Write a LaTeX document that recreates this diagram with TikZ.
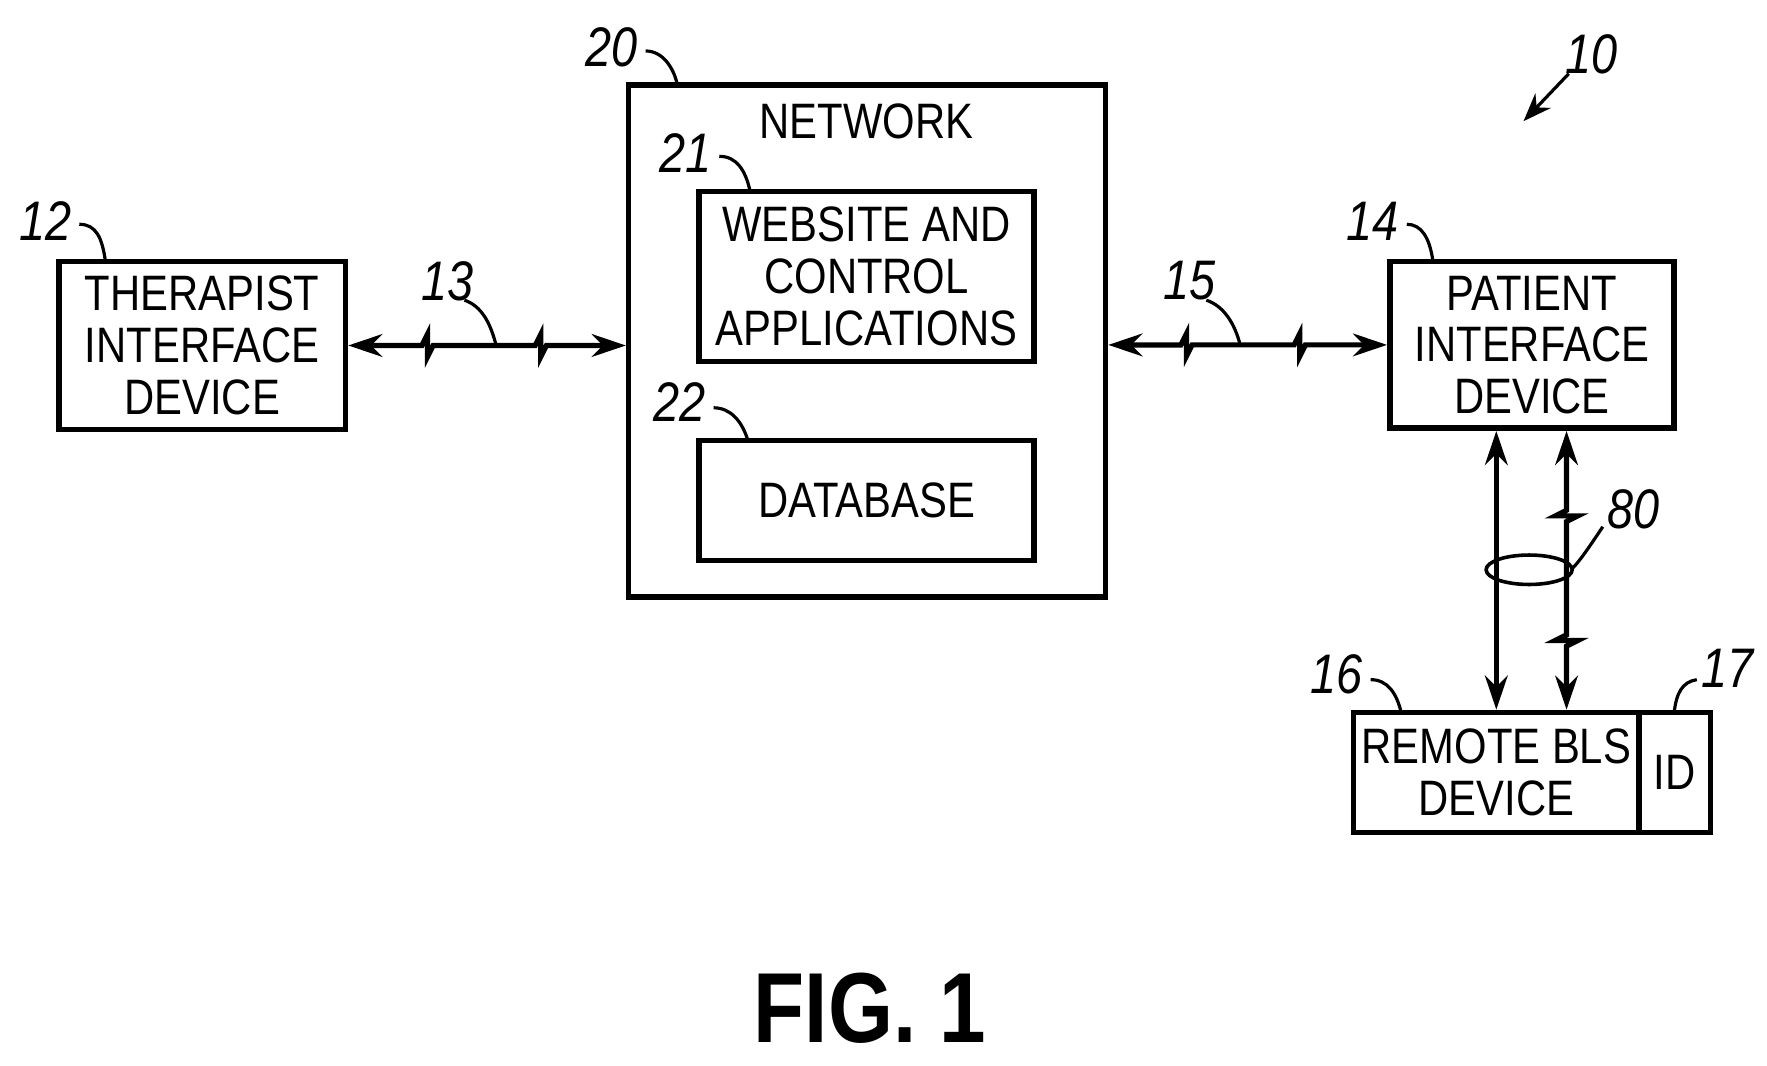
\documentclass[tikz,border=0pt]{standalone}
\usepackage{fontspec}
\setmainfont[FakeStretch=0.84]{Liberation Sans}
\usetikzlibrary{positioning,arrows.meta}
\tikzset{
  blk/.style={draw,line width=1.4pt,inner sep=0pt,align=center,
    font=\fontsize{12.5}{13}\selectfont},
  refno/.style={font=\itshape\fontsize{14}{15}\selectfont},
  lead/.style={line width=0.8pt},
  link/.style={line width=1.3pt,{Stealth[length=3mm,width=2mm]}-{Stealth[length=3mm,width=2mm]}}
}
\begin{document}
\begin{tikzpicture}
\useasboundingbox (0,0) rectangle (15.6,-9.41);
% boxes
\node[blk,minimum width=2.53cm,minimum height=1.48cm] (ther) at (1.785,-3.05) {THERAPIST\\INTERFACE\\DEVICE};
\node[blk,minimum width=4.21cm,minimum height=4.52cm] (net) at (7.655,-3.01) {};
\node[font=\fontsize{12.5}{13}\selectfont] (nettext) at (7.65,-1.07) {NETWORK};
\node[blk,minimum width=2.96cm,minimum height=1.50cm] (web) at (7.65,-2.44) {WEBSITE AND\\CONTROL\\APPLICATIONS};
\node[blk,minimum width=2.96cm,minimum height=1.06cm] (db) at (7.65,-4.42) {DATABASE};
\node[blk,minimum width=2.51cm,minimum height=1.47cm] (pat) at (13.525,-3.045) {PATIENT\\INTERFACE\\DEVICE};
\node[blk,minimum width=2.52cm,minimum height=1.06cm] (bls) at (13.21,-6.82) {REMOTE BLS\\DEVICE};
\node[blk,minimum width=0.63cm,minimum height=1.06cm,right=-1.4pt of bls] (id) {ID};
% links
\draw[link] (ther.east) -- ++(0.65,0) -- ++(0.05,0.1) -- ++(0,-0.2) -- ++(0.05,0.1)
  -- ++(0.9,0) -- ++(0.05,0.1) -- ++(0,-0.2) -- ++(0.05,0.1) -- (net.west |- ther.east);
\draw[link] (net.east |- pat.west) -- ++(0.64,0) -- ++(0.05,0.1) -- ++(0,-0.2) -- ++(0.05,0.1)
  -- ++(0.9,0) -- ++(0.05,0.1) -- ++(0,-0.2) -- ++(0.05,0.1) -- (pat.west);
\draw[link] (bls.north |- pat.south) -- (bls.north);
\coordinate (vtop) at ([xshift=3.05mm]pat.south);
\coordinate (vbot) at (vtop |- bls.north);
\draw[link] (vtop) -- ++(0,-0.7) -- ++(-0.1,-0.05) -- ++(0.2,0) -- ++(-0.1,-0.05)
  -- ++(0,-1.0) -- ++(-0.1,-0.05) -- ++(0.2,0) -- ++(-0.1,-0.05) -- (vbot);
\draw[line width=0.9pt] (13.5,-5.03) ellipse (0.38 and 0.13);
% reference numerals
\node[refno] (n10) at (14.05,-0.48) {10};
\draw[lead,-{Stealth[length=2.5mm]}] (13.85,-0.65) -- (13.45,-1.07);
\node[refno] (n12) at (0.4,-1.95) {12};
\draw[lead] (0.7,-1.98) .. controls (0.85,-1.98) and (0.9,-2.1) .. (0.93,-2.3);
\node[refno] (n20) at (5.4,-0.42) {20};
\draw[lead] (5.7,-0.45) .. controls (5.85,-0.45) and (5.95,-0.6) .. (5.98,-0.75);
\node[refno] (n21) at (6.05,-1.35) {21};
\draw[lead] (6.35,-1.38) .. controls (6.5,-1.38) and (6.58,-1.5) .. (6.62,-1.68);
\node[refno] (n22) at (6.0,-3.55) {22};
\draw[lead] (6.3,-3.6) .. controls (6.45,-3.6) and (6.55,-3.72) .. (6.6,-3.88);
\node[refno] (n14) at (12.12,-1.95) {14};
\draw[lead] (12.42,-1.98) .. controls (12.55,-1.98) and (12.62,-2.1) .. (12.65,-2.3);
\node[refno] (n13) at (3.95,-2.48) {13};
\draw[lead] (4.1,-2.65) .. controls (4.25,-2.7) and (4.33,-2.85) .. (4.38,-3.05);
\node[refno] (n15) at (10.5,-2.48) {15};
\draw[lead] (10.65,-2.65) .. controls (10.8,-2.7) and (10.9,-2.85) .. (10.95,-3.05);
\node[refno] (n80) at (14.42,-4.5) {80};
\draw[lead] (14.15,-4.65) .. controls (14.05,-4.8) and (13.95,-4.95) .. (13.88,-5.02);
\node[refno] (n16) at (11.8,-5.95) {16};
\draw[lead] (12.1,-6.0) .. controls (12.25,-6.0) and (12.33,-6.12) .. (12.37,-6.29);
\node[refno] (n17) at (15.25,-5.9) {17};
\draw[lead] (14.98,-6.0) .. controls (14.85,-6.02) and (14.8,-6.12) .. (14.78,-6.29);
% figure label
\node[font=\bfseries\fontsize{25}{28}\selectfont] (fig) at (7.68,-8.9) {FIG. 1};
\end{tikzpicture}
\end{document}
